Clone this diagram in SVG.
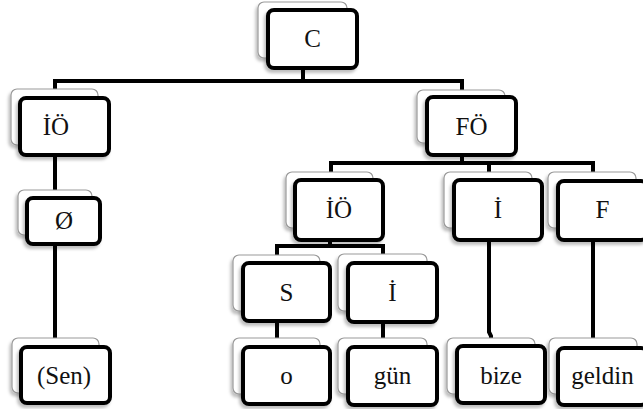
<svg xmlns="http://www.w3.org/2000/svg" width="643" height="409" viewBox="0 0 643 409">
<defs>
<filter id="sh" x="-20%" y="-20%" width="140%" height="150%">
<feDropShadow dx="-2" dy="3" stdDeviation="1.8" flood-color="#000" flood-opacity="0.25"/>
</filter>
</defs>
<style>
.back{fill:#fff;stroke:#999;stroke-width:1.2;filter:url(#sh)}
.front{fill:#fff;stroke:#000;stroke-width:4;filter:url(#sh)}
.lbl{font-family:"Liberation Serif","Times New Roman",serif;font-size:25px;fill:#111;text-anchor:middle}
.conn{fill:none;stroke:#000;stroke-width:4;stroke-linejoin:miter}
</style>
<rect width="643" height="409" fill="#fff"/>
<g id="connectors" class="conn">
<path d="M303 68V81M55 98V81H462V97"/>
<path d="M55 155V198M55 244V347"/>
<path d="M462 155V163M331 180V163H593V181M489 163V180"/>
<path d="M330 240V246M277 263V246H383V263"/>
<path d="M277 321V347M383 322V347"/>
<path d="M489 240V332L491 336V346"/>
<path d="M593 240V348"/>
</g>
<g id="n-C"><rect class="back" x="258" y="2" width="89" height="56" rx="6"/><rect class="front" x="268" y="10" width="89" height="58" rx="6"/><text class="lbl" x="312.5" y="47">C</text></g>
<g id="n-IO-left"><rect class="back" x="11" y="89" width="87" height="56" rx="6"/><rect class="front" x="20" y="98" width="89" height="57" rx="6"/><text class="lbl" x="56" y="135">İÖ</text></g>
<g id="n-empty"><rect class="back" x="18" y="190" width="74" height="45" rx="6"/><rect class="front" x="27" y="198" width="73" height="46" rx="6"/><text class="lbl" x="64" y="229">Ø</text></g>
<g id="n-Sen"><rect class="back" x="12" y="338" width="87" height="55" rx="6"/><rect class="front" x="21" y="347" width="89" height="56" rx="6"/><text class="lbl" x="64" y="384">(Sen)</text></g>
<g id="n-FO"><rect class="back" x="417" y="90" width="88" height="53" rx="6"/><rect class="front" x="427" y="97" width="89" height="58" rx="6"/><text class="lbl" x="471.5" y="134.5">FÖ</text></g>
<g id="n-IO-mid"><rect class="back" x="286" y="172" width="87" height="56" rx="6"/><rect class="front" x="295" y="180" width="88" height="60" rx="6"/><text class="lbl" x="339" y="217.5">İÖ</text></g>
<g id="n-I-right"><rect class="back" x="444" y="172" width="88" height="56" rx="6"/><rect class="front" x="454" y="180" width="88" height="60" rx="6"/><text class="lbl" x="498" y="217.5">İ</text></g>
<g id="n-F"><rect class="back" x="548" y="172" width="88" height="56" rx="6"/><rect class="front" x="558" y="181" width="89" height="59" rx="6"/><text class="lbl" x="602.5" y="217.5">F</text></g>
<g id="n-S"><rect class="back" x="233" y="255" width="87" height="56" rx="6"/><rect class="front" x="243" y="263" width="87" height="58" rx="6"/><text class="lbl" x="286.5" y="301">S</text></g>
<g id="n-I-mid"><rect class="back" x="338" y="254" width="89" height="57" rx="6"/><rect class="front" x="348" y="263" width="89" height="59" rx="6"/><text class="lbl" x="392.5" y="301">İ</text></g>
<g id="n-o"><rect class="back" x="233" y="338" width="87" height="56" rx="6"/><rect class="front" x="243" y="347" width="87" height="57" rx="6"/><text class="lbl" x="286.5" y="384">o</text></g>
<g id="n-gun"><rect class="back" x="338" y="338" width="89" height="56" rx="6"/><rect class="front" x="348" y="347" width="89" height="58" rx="6"/><text class="lbl" x="392.5" y="384">gün</text></g>
<g id="n-bize"><rect class="back" x="447" y="338" width="88" height="56" rx="6"/><rect class="front" x="457" y="346" width="88" height="57" rx="6"/><text class="lbl" x="501" y="384">bize</text></g>
<g id="n-geldin"><rect class="back" x="549" y="338" width="88" height="56" rx="6"/><rect class="front" x="558" y="348" width="89" height="57" rx="6"/><text class="lbl" x="602.5" y="384">geldin</text></g>
</svg>
